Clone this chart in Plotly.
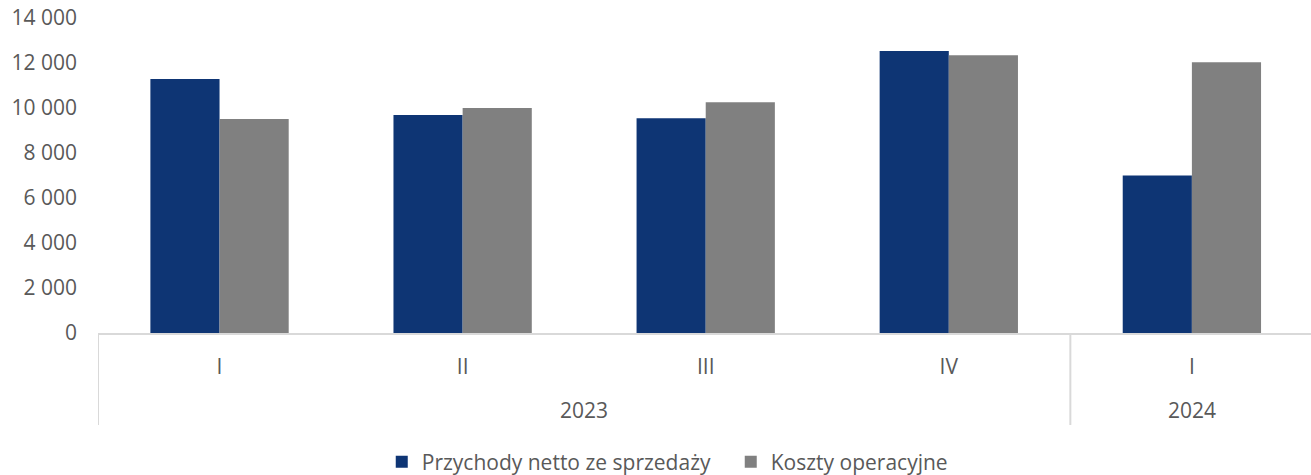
import plotly.graph_objects as go

quarters = ["I", "II", "III", "IV", "I"]
years = ["2023", "2023", "2023", "2023", "2024"]
revenue = [11290, 9690, 9550, 12530, 7000]
costs = [9510, 10000, 10260, 12340, 12030]
series_names = ["Przychody netto ze sprzedaży", "Koszty operacyjne"]
y_ticks = [0, 2000, 4000, 6000, 8000, 10000, 12000, 14000]
y_ticktext = ["0", "2 000", "4 000", "6 000", "8 000", "10 000", "12 000", "14 000"]

BLUE = "#0E3574"
GRAY = "#808080"
TEXT = "#595959"
LINE = "#D9D9D9"
FONT = "Open Sans"

cats = [f"{q} {y}" for q, y in zip(quarters, years)]

fig = go.Figure()
fig.add_trace(go.Bar(x=cats, y=revenue, name=series_names[0], marker=dict(color=BLUE, line=dict(width=0))))
fig.add_trace(go.Bar(x=cats, y=costs, name=series_names[1], marker=dict(color=GRAY, line=dict(width=0))))

# year group labels and dividers
unique_years = []
for y in years:
    if y not in unique_years:
        unique_years.append(y)
annotations = []
shapes = []
for yr in unique_years:
    idx = [i for i, y in enumerate(years) if y == yr]
    annotations.append(dict(x=sum(idx) / len(idx), y=-0.244, xref="x", yref="paper",
                            text=yr, showarrow=False, yanchor="middle",
                            font=dict(family=FONT, size=21, color=TEXT)))
    shapes.append(dict(type="line", xref="x", yref="paper", x0=idx[0] - 0.5, x1=idx[0] - 0.5,
                       y0=0, y1=-0.292, line=dict(color=LINE, width=2)))

fig.update_layout(
    width=1311, height=475,
    margin=dict(l=98, r=0, t=18, b=142, autoexpand=False),
    paper_bgcolor="white", plot_bgcolor="white",
    barmode="group", bargap=0.431, bargroupgap=0,
    font=dict(family=FONT, size=21, color=TEXT),
    xaxis=dict(type="category", range=[-0.5, 4.49], tickvals=cats, ticktext=quarters,
               showline=True, linecolor=LINE, linewidth=2, showgrid=False, ticks="",
               automargin=False,
               ticklabelstandoff=14, tickfont=dict(family=FONT, size=21, color=TEXT)),
    yaxis=dict(range=[0, 14000], tickvals=y_ticks, ticktext=y_ticktext, showgrid=False,
               zeroline=False, showline=False, ticks="", ticklabelstandoff=20,
               automargin=False,
               tickfont=dict(family=FONT, size=21, color=TEXT)),
    legend=dict(orientation="h", xref="container", yref="container",
                x=0.5574, xanchor="center", y=0.027, yanchor="middle",
                entrywidth=304, entrywidthmode="pixels",
                font=dict(family=FONT, size=21, color=TEXT), itemclick=False),
    annotations=annotations, shapes=shapes,
)

fig.write_html("out.html", config={"displayModeBar": False},
               post_script="document.body.style.margin='0';")
